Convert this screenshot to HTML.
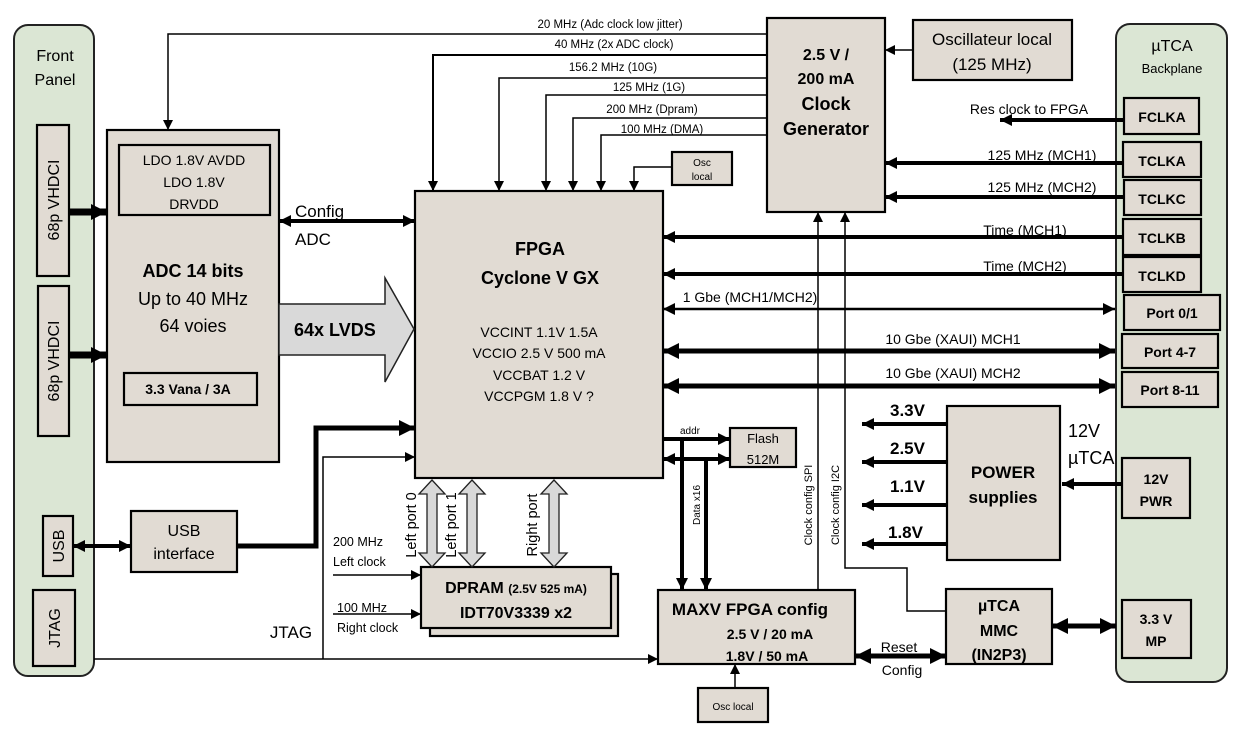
<!DOCTYPE html>
<html><head><meta charset="utf-8"><style>
html,body{margin:0;padding:0;background:#fff;}
svg{display:block;font-family:"Liberation Sans","DejaVu Sans",sans-serif;}
.b{fill:#e1dbd3;stroke:#000;stroke-width:2.2}
.t{font-size:14px;text-anchor:middle}
.bd{font-weight:bold}
</style></head><body>
<svg width="1238" height="732" viewBox="0 0 1238 732" xmlns="http://www.w3.org/2000/svg">
<defs>
<marker id="as" markerWidth="10" markerHeight="10" refX="10" refY="5" orient="auto" markerUnits="userSpaceOnUse"><path d="M0,0L10,5L0,10z"/></marker>
<marker id="at" markerWidth="12" markerHeight="12" refX="12" refY="6" orient="auto" markerUnits="userSpaceOnUse"><path d="M0,0L12,6L0,12z"/></marker>
<marker id="ats" markerWidth="12" markerHeight="12" refX="0" refY="6" orient="auto" markerUnits="userSpaceOnUse"><path d="M12,0L0,6L12,12z"/></marker>
<marker id="ab" markerWidth="16" markerHeight="16" refX="16" refY="8" orient="auto" markerUnits="userSpaceOnUse"><path d="M0,0L16,8L0,16z"/></marker>
<marker id="abs" markerWidth="16" markerHeight="16" refX="0" refY="8" orient="auto" markerUnits="userSpaceOnUse"><path d="M16,0L0,8L16,16z"/></marker>
</defs>
<rect x="14" y="25" width="80" height="651" rx="14" fill="#dbe6d4" stroke="#222" stroke-width="2"/>
<text x="55" y="61" class="t" style="font-size:16px">Front</text>
<text x="55" y="85" class="t" style="font-size:16px">Panel</text>
<rect x="1116" y="24" width="111" height="658" rx="14" fill="#dbe6d4" stroke="#222" stroke-width="2"/>
<text x="1172" y="51" class="t" style="font-size:16px">µTCA</text>
<text x="1172" y="73" class="t" style="font-size:13px">Backplane</text>

<rect class="b" x="37" y="125" width="32" height="151"/>
<text transform="translate(59,200) rotate(-90)" class="t" style="font-size:16px">68p VHDCI</text>
<rect class="b" x="38" y="286" width="31" height="150"/>
<text transform="translate(59,361) rotate(-90)" class="t" style="font-size:16px">68p VHDCI</text>
<rect class="b" x="43" y="516" width="30" height="60"/>
<text transform="translate(64,546) rotate(-90)" class="t" style="font-size:16px">USB</text>
<rect class="b" x="33" y="590" width="42" height="76"/>
<text transform="translate(60,628) rotate(-90)" class="t" style="font-size:16px">JTAG</text>

<rect class="b" x="107" y="130" width="172" height="332"/>
<rect class="b" x="119" y="145" width="151" height="70"/>
<text x="194" y="165" class="t">LDO 1.8V AVDD</text>
<text x="194" y="187" class="t">LDO 1.8V</text>
<text x="194" y="209" class="t">DRVDD</text>
<text x="193" y="277" class="t bd" style="font-size:18px">ADC 14 bits</text>
<text x="193" y="305" class="t" style="font-size:18px">Up to 40 MHz</text>
<text x="193" y="332" class="t" style="font-size:18px">64 voies</text>
<rect class="b" x="124" y="373" width="133" height="32"/>
<text x="188" y="394" class="t bd">3.3 Vana / 3A</text>

<rect class="b" x="415" y="191" width="248" height="287"/>
<text x="540" y="255" class="t bd" style="font-size:18px">FPGA</text>
<text x="540" y="284" class="t bd" style="font-size:18px">Cyclone V GX</text>
<text x="539" y="337" class="t">VCCINT 1.1V 1.5A</text>
<text x="539" y="358" class="t">VCCIO 2.5 V 500 mA</text>
<text x="539" y="380" class="t">VCCBAT 1.2 V</text>
<text x="539" y="401" class="t">VCCPGM 1.8 V ?</text>

<rect class="b" x="767" y="18" width="118" height="194"/>
<text x="826" y="60" class="t bd" style="font-size:16px">2.5 V /</text>
<text x="826" y="84" class="t bd" style="font-size:16px">200 mA</text>
<text x="826" y="110" class="t bd" style="font-size:18px">Clock</text>
<text x="826" y="135" class="t bd" style="font-size:18px">Generator</text>
<rect class="b" x="913" y="20" width="159" height="60"/>
<text x="992" y="45" class="t" style="font-size:17px">Oscillateur local</text>
<text x="992" y="70" class="t" style="font-size:17px">(125 MHz)</text>
<rect class="b" x="672" y="152" width="60" height="33"/>
<text x="702" y="166" class="t" style="font-size:10px">Osc</text>
<text x="702" y="180" class="t" style="font-size:10px">local</text>

<g fill="none" stroke="#000">
<polyline points="767,34 168,34 168,130" stroke-width="1.5" marker-end="url(#as)"/>
<polyline points="767,55 433,55 433,191" stroke-width="2" marker-end="url(#as)"/>
<polyline points="767,78 499,78 499,191" stroke-width="1.5" marker-end="url(#as)"/>
<polyline points="767,95 546,95 546,191" stroke-width="1.5" marker-end="url(#as)"/>
<polyline points="767,118 573,118 573,191" stroke-width="1.5" marker-end="url(#as)"/>
<polyline points="767,135 601,135 601,191" stroke-width="1.5" marker-end="url(#as)"/>
<polyline points="672,167 634,167 634,191" stroke-width="1.5" marker-end="url(#as)"/>
<line x1="913" y1="50" x2="885" y2="50" stroke-width="1.5" marker-end="url(#as)"/>
</g>
<g style="font-size:11.5px" text-anchor="middle">
<text x="610" y="28">20 MHz (Adc clock low jitter)</text>
<text x="614" y="48">40 MHz (2x ADC clock)</text>
<text x="613" y="71">156.2 MHz (10G)</text>
<text x="649" y="91">125 MHz (1G)</text>
<text x="652" y="113">200 MHz (Dpram)</text>
<text x="662" y="133">100 MHz (DMA)</text>
</g>

<g class="bd" style="font-size:14px" text-anchor="middle">
<rect class="b" x="1124" y="98" width="75" height="36"/><text x="1162" y="122">FCLKA</text>
<rect class="b" x="1123" y="142" width="78" height="35"/><text x="1162" y="166">TCLKA</text>
<rect class="b" x="1124" y="180" width="77" height="35"/><text x="1162" y="204">TCLKC</text>
<rect class="b" x="1123" y="219" width="78" height="36"/><text x="1162" y="243">TCLKB</text>
<rect class="b" x="1123" y="257" width="78" height="35"/><text x="1162" y="281">TCLKD</text>
<rect class="b" x="1124" y="295" width="96" height="35"/><text x="1172" y="318">Port 0/1</text>
<rect class="b" x="1122" y="334" width="96" height="34"/><text x="1170" y="357">Port 4-7</text>
<rect class="b" x="1122" y="372" width="96" height="35"/><text x="1170" y="395">Port 8-11</text>
<rect class="b" x="1122" y="458" width="68" height="60"/><text x="1156" y="484">12V</text><text x="1156" y="506">PWR</text>
<rect class="b" x="1122" y="600" width="69" height="58"/><text x="1156" y="624">3.3 V</text><text x="1156" y="646">MP</text>
</g>

<g stroke="#000" fill="none">
<line x1="1124" y1="120" x2="1000" y2="120" stroke-width="4" marker-end="url(#at)"/>
<line x1="1124" y1="163" x2="885" y2="163" stroke-width="4" marker-end="url(#at)"/>
<line x1="1124" y1="197" x2="885" y2="197" stroke-width="4" marker-end="url(#at)"/>
<line x1="1123" y1="237" x2="663" y2="237" stroke-width="4" marker-end="url(#at)"/>
<line x1="1123" y1="274" x2="663" y2="274" stroke-width="4" marker-end="url(#at)"/>
<line x1="663" y1="309" x2="1115" y2="309" stroke-width="2.5" marker-start="url(#ats)" marker-end="url(#at)"/>
<line x1="663" y1="351" x2="1115" y2="351" stroke-width="5" marker-start="url(#abs)" marker-end="url(#ab)"/>
<line x1="663" y1="386" x2="1115" y2="386" stroke-width="5" marker-start="url(#abs)" marker-end="url(#ab)"/>
</g>
<g class="t">
<text x="1029" y="114">Res clock to FPGA</text>
<text x="1042" y="160">125 MHz (MCH1)</text>
<text x="1042" y="192">125 MHz (MCH2)</text>
<text x="1025" y="235">Time (MCH1)</text>
<text x="1025" y="271">Time (MCH2)</text>
<text x="750" y="302">1 Gbe (MCH1/MCH2)</text>
<text x="953" y="344">10 Gbe (XAUI) MCH1</text>
<text x="953" y="378">10 Gbe (XAUI) MCH2</text>
</g>

<g stroke="#000" fill="none">
<line x1="69" y1="212" x2="107" y2="212" stroke-width="7" marker-end="url(#ab)"/>
<line x1="69" y1="355" x2="107" y2="355" stroke-width="7" marker-end="url(#ab)"/>
<line x1="279" y1="221" x2="415" y2="221" stroke-width="4" marker-start="url(#ats)" marker-end="url(#at)"/>
<line x1="73" y1="546" x2="131" y2="546" stroke-width="4" marker-start="url(#ats)" marker-end="url(#at)"/>
<polyline points="237,546 316,546 316,428 415,428" stroke-width="5" marker-end="url(#ab)"/>
<polyline points="323,659 323,457 415,457" stroke-width="1.5" marker-end="url(#as)"/>
<line x1="94" y1="659" x2="658" y2="659" stroke-width="1.5" marker-end="url(#as)"/>
</g>
<text x="295" y="217" style="font-size:17px">Config</text>
<text x="295" y="245" style="font-size:17px">ADC</text>
<path d="M279,304H385V278L414,329L385,382V355H279Z" fill="#d9d9d9" stroke="#222" stroke-width="1.5"/>
<text x="294" y="336" class="bd" style="font-size:18px">64x LVDS</text>
<text x="291" y="638" style="font-size:17px" text-anchor="middle">JTAG</text>

<rect class="b" x="131" y="511" width="106" height="61"/>
<text x="184" y="536" class="t" style="font-size:16px">USB</text>
<text x="184" y="559" class="t" style="font-size:16px">interface</text>

<rect class="b" x="430" y="574" width="188" height="62"/>
<rect class="b" x="421" y="567" width="190" height="61"/>
<text x="516" y="593" class="t bd" style="font-size:16px">DPRAM <tspan style="font-size:12px">(2.5V 525 mA)</tspan></text>
<text x="516" y="618" class="t bd" style="font-size:16px">IDT70V3339 x2</text>
<g fill="#d9d9d9" stroke="#222" stroke-width="1.3">
<path d="M432,480L445,494H437V553H445L432,567L419,553H427V494H419Z"/>
<path d="M472,480L485,494H477V553H485L472,567L459,553H467V494H459Z"/>
<path d="M554,480L567,494H559V553H567L554,567L541,553H549V494H541Z"/>
</g>
<text transform="translate(416,525) rotate(-90)" class="t" style="font-size:14.5px">Left port 0</text>
<text transform="translate(456,525) rotate(-90)" class="t" style="font-size:14.5px">Left port 1</text>
<text transform="translate(537,525) rotate(-90)" class="t" style="font-size:14.5px">Right port</text>
<g stroke="#000" stroke-width="1.5">
<line x1="333" y1="575" x2="421" y2="575" marker-end="url(#as)"/>
<line x1="333" y1="614" x2="421" y2="614" marker-end="url(#as)"/>
</g>
<text x="333" y="546" style="font-size:12.5px">200 MHz</text>
<text x="333" y="566" style="font-size:12.5px">Left clock</text>
<text x="337" y="612" style="font-size:12.5px">100 MHz</text>
<text x="337" y="632" style="font-size:12.5px">Right clock</text>

<rect class="b" x="730" y="428" width="66" height="39"/>
<text x="763" y="443" class="t" style="font-size:13px">Flash</text>
<text x="763" y="464" class="t" style="font-size:13px">512M</text>
<g stroke="#000" fill="none" stroke-width="4">
<line x1="663" y1="439" x2="730" y2="439" marker-end="url(#at)"/>
<line x1="663" y1="459" x2="730" y2="459" marker-start="url(#ats)" marker-end="url(#at)"/>
<line x1="682" y1="439" x2="682" y2="590" marker-end="url(#at)"/>
<line x1="706" y1="459" x2="706" y2="590" marker-end="url(#at)"/>
</g>
<text x="690" y="434" class="t" style="font-size:10px">addr</text>
<text transform="translate(700,505) rotate(-90)" class="t" style="font-size:10px">Data x16</text>

<rect class="b" x="658" y="590" width="197" height="74"/>
<text x="750" y="615" class="t bd" style="font-size:17px">MAXV  FPGA config</text>
<text x="770" y="639" class="t bd">2.5 V / 20 mA</text>
<text x="767" y="661" class="t bd">1.8V / 50 mA</text>
<rect class="b" x="698" y="688" width="70" height="34"/>
<text x="733" y="710" class="t" style="font-size:10px">Osc local</text>
<line x1="735" y1="688" x2="735" y2="664" stroke="#000" stroke-width="1.5" marker-end="url(#as)"/>

<g stroke="#000" fill="none" stroke-width="1.5">
<line x1="818" y1="590" x2="818" y2="212" marker-end="url(#as)"/>
<polyline points="946,611 907,611 907,568 845,568 845,212" marker-end="url(#as)"/>
</g>
<text transform="translate(812,505) rotate(-90)" class="t" style="font-size:11px">Clock config SPI</text>
<text transform="translate(839,505) rotate(-90)" class="t" style="font-size:11px">Clock config I2C</text>

<rect class="b" x="947" y="406" width="113" height="154"/>
<text x="1003" y="478" class="t bd" style="font-size:17px">POWER</text>
<text x="1003" y="503" class="t bd" style="font-size:17px">supplies</text>
<g stroke="#000" fill="none" stroke-width="4">
<line x1="947" y1="424" x2="862" y2="424" marker-end="url(#at)"/>
<line x1="947" y1="462" x2="862" y2="462" marker-end="url(#at)"/>
<line x1="947" y1="505" x2="862" y2="505" marker-end="url(#at)"/>
<line x1="947" y1="544" x2="862" y2="544" marker-end="url(#at)"/>
<line x1="1122" y1="484" x2="1062" y2="484" marker-end="url(#at)"/>
<line x1="855" y1="656" x2="946" y2="656" stroke-width="5" marker-start="url(#abs)" marker-end="url(#ab)"/>
<line x1="1052" y1="626" x2="1116" y2="626" stroke-width="5" marker-start="url(#abs)" marker-end="url(#ab)"/>
</g>
<g class="bd" style="font-size:17px">
<text x="890" y="416">3.3V</text>
<text x="890" y="454">2.5V</text>
<text x="890" y="492">1.1V</text>
<text x="888" y="538">1.8V</text>
</g>
<text x="1068" y="437" style="font-size:18px">12V</text>
<text x="1068" y="464" style="font-size:18px">µTCA</text>
<rect class="b" x="946" y="589" width="106" height="75"/>
<text x="999" y="611" class="t bd" style="font-size:16px">µTCA</text>
<text x="999" y="636" class="t bd" style="font-size:16px">MMC</text>
<text x="999" y="660" class="t bd" style="font-size:16px">(IN2P3)</text>
<text x="899" y="652" class="t">Reset</text>
<text x="902" y="675" class="t">Config</text>
</svg>
</body></html>
